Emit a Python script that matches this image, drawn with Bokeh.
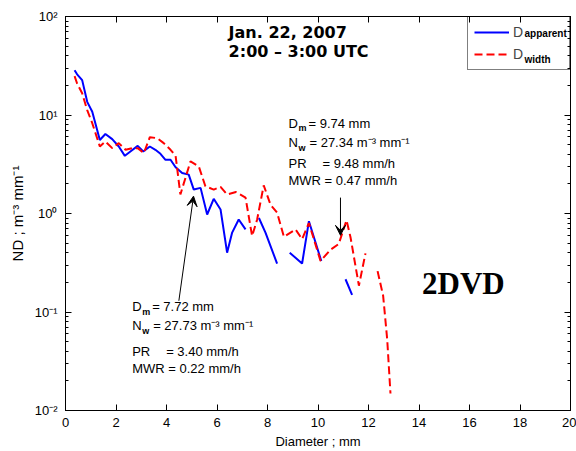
import math
from bokeh.plotting import figure
from bokeh.models import (Range1d, LinearAxis, LogAxis, LogTicker, SingleIntervalTicker,
                          CustomJSTickFormatter, Label, Arrow, VeeHead, Legend, LegendItem,
                          ColumnDataSource)
from bokeh.embed import file_html
from bokeh.resources import INLINE

nan = float("nan")

# ---- data ----
d_apparent_diam = [0.36, 0.46, 0.66, 0.86, 1.06, 1.36, 1.58, 1.85, 2.11, 2.35, 2.57, 2.86,
                   3.08, 3.34, 3.56, 3.76, 3.96, 4.16, 4.36, 4.62, 4.88, 5.08, 5.35, 5.61,
                   5.87, 6.14, 6.40, 6.60, 6.86, 7.13, 7.40, 7.66, 7.92, 8.38, 8.63, 8.88,
                   9.37, 9.64, 10.13, 10.60, 11.09, 11.35]
d_apparent_nd = [28.5, 25.9, 22.6, 13.6, 10.8, 5.58, 6.42, 5.69, 4.79, 3.85, 4.26, 4.86,
                 4.26, 4.79, 4.43, 4.04, 3.51, 3.51, 2.95, 2.58, 2.48, 1.75, 1.82, 0.977,
                 1.41, 1.10, 0.40, 0.64, 0.87, 0.69, nan, 0.90, 0.64, 0.31, nan, 0.40,
                 0.31, 0.835, 0.33, nan, 0.215, 0.149]

d_width_diam = [0.36, 0.46, 0.66, 0.86, 1.06, 1.36, 1.58, 1.85, 2.11, 2.38, 2.64, 2.86,
                3.10, 3.34, 3.63, 3.89, 4.16, 4.36, 4.55, 4.95, 5.28, 5.54, 5.87, 6.14,
                6.40, 6.75, 7.13, 7.39, 7.59, 7.85, 8.12, 8.38, 8.65, 9.11, 9.37, 9.64,
                10.10, 10.50, 10.82, 11.13, 11.29, 11.62, 11.88, 12.10, 12.36, 12.58,
                12.74, 12.87]
d_width_nd = [24.8, 20.9, 16.6, 11.2, 8.25, 4.79, 5.37, 4.61, 5.18, 4.43, 4.61, 4.61,
              4.10, 5.95, 5.82, 5.18, 4.43, 3.85, 1.56, 3.38, 3.00, 1.89, 1.75, 1.86,
              1.56, 1.65, 1.45, 0.59, 0.87, 1.93, 1.23, 1.02, 0.58, 0.69, 0.55, 0.80,
              0.33, 0.43, 0.49, 0.855, 0.57, 0.185, 0.394, nan, 0.26, 0.146,
              0.053, 0.0149]

x_tick_step = 2
y_tick_exponents = [-2, -1, 0, 1, 2]

FONT = "Liberation Sans"

p = figure(width=576, height=451,
           x_range=Range1d(0, 20), y_range=Range1d(0.01, 100),
           y_axis_type="log", output_backend="svg", toolbar_location=None,
           min_border_left=65, min_border_right=6, min_border_top=16, min_border_bottom=39)
p.xgrid.visible = False
p.ygrid.visible = False
p.outline_line_color = "black"
p.background_fill_color = "white"
p.border_fill_color = "white"

sup_code = """
const e = Math.round(Math.log10(tick));
const m = {'-':'\u207b','0':'\u2070','1':'\u00b9','2':'\u00b2','3':'\u00b3','4':'\u2074',
           '5':'\u2075','6':'\u2076','7':'\u2077','8':'\u2078','9':'\u2079'};
return '10' + String(e).split('').map(c => m[c]).join('');
"""


def style_axis(ax, labels=True):
    ax.axis_line_color = "black"
    ax.major_tick_in = 6
    ax.major_tick_out = 0
    ax.minor_tick_in = 3
    ax.minor_tick_out = 0
    ax.major_tick_line_color = "black"
    ax.minor_tick_line_color = "black"
    ax.major_label_text_font = FONT
    ax.major_label_text_font_size = "13px"
    ax.major_label_text_color = "black"
    ax.axis_label_text_font = FONT
    ax.axis_label_text_font_size = "13px"
    ax.axis_label_text_font_style = "normal"
    ax.axis_label_text_color = "black"
    if not labels:
        ax.major_label_text_font_size = "0px"
        ax.major_label_standoff = 0
        ax.axis_label_standoff = 0
        ax.formatter = CustomJSTickFormatter(code="return '';")


xax = p.xaxis[0]
xax.ticker = SingleIntervalTicker(interval=x_tick_step, num_minor_ticks=0)
style_axis(xax)
xax.minor_tick_line_color = None
xax.major_label_standoff = 7
xax.axis_label = "Diameter ; mm"
xax.axis_label_standoff = 4

yax = p.yaxis[0]
style_axis(yax)
yax.ticker = LogTicker(num_minor_ticks=10)
yax.formatter = CustomJSTickFormatter(code=sup_code)
yax.major_label_standoff = 8
yax.axis_label = "ND ; m\u207b\u00b3 mm\u207b\u00b9"
yax.axis_label_text_font_size = "15px"
yax.axis_label_standoff = 6

top_ax = LinearAxis(ticker=SingleIntervalTicker(interval=x_tick_step, num_minor_ticks=0))
style_axis(top_ax, labels=False)
top_ax.minor_tick_line_color = None
p.add_layout(top_ax, "above")

right_ax = LogAxis(ticker=LogTicker(num_minor_ticks=10))
style_axis(right_ax, labels=False)
p.add_layout(right_ax, "right")

src_a = ColumnDataSource(dict(x=d_apparent_diam, y=d_apparent_nd))
src_w = ColumnDataSource(dict(x=d_width_diam, y=d_width_nd))
r_a = p.line("x", "y", source=src_a, line_color="#0000ff", line_width=2)
r_w = p.line("x", "y", source=src_w, line_color="#ff0000", line_width=2, line_dash="8 4")

legend = Legend(items=[LegendItem(label="D", renderers=[r_a]),
                       LegendItem(label="D", renderers=[r_w])],
                location="top_right", margin=0, padding=6, spacing=4,
                glyph_width=35, glyph_height=18, label_height=18, label_width=50,
                label_standoff=4, border_line_color="black", border_line_width=1,
                background_fill_color="white", background_fill_alpha=0.0,
                label_text_font=FONT, label_text_font_size="14px")
p.add_layout(legend)

for txt, yy in [("apparent", 67.3), ("width", 36.5)]:
    p.add_layout(Label(x=18.18, y=yy, text=txt, text_font=FONT, text_font_size="10px",
                       text_font_style="bold", text_baseline="middle", text_color="black",
                       level="overlay"))

# title
for txt, yy in [("Jan. 22, 2007", 68.9), ("2:00 \u2013 3:00 UTC", 44.3)]:
    p.add_layout(Label(x=6.46, y=yy, text=txt, text_font="DejaVu Sans", text_font_size="16px",
                       text_font_style="bold", text_baseline="middle", text_color="black"))

# 2DVD
p.add_layout(Label(x=14.12, y=0.196, text="2DVD", text_font="Liberation Serif",
                   text_font_size="31px", text_font_style="bold", text_baseline="middle",
                   text_color="black"))


def block(x0, ys, dm, nw, pr, mwr):
    def lab(x, y, text, off=0, size="13px", baseline="middle", style="normal"):
        p.add_layout(Label(x=x, y=y, text=text, x_offset=off, text_font=FONT,
                           text_font_size=size, text_baseline=baseline,
                           text_font_style=style, text_color="black"))
    lab(x0, ys[0], "D")
    lab(x0, ys[0], "m", off=10, size="9px", baseline="top", style="bold")
    lab(x0, ys[0], "= %s mm" % dm, off=20)
    lab(x0, ys[1], "N")
    lab(x0, ys[1], "w", off=10, size="9px", baseline="top", style="bold")
    lab(x0, ys[1], "= %s m\u207b\u00b3 mm\u207b\u00b9" % nw, off=21)
    lab(x0, ys[2], "PR")
    lab(x0, ys[2], "= %s mm/h" % pr, off=34)
    lab(x0, ys[3], "MWR = %s mm/h" % mwr)


block(8.83, [8.24, 5.25, 3.25, 2.15], "9.74", "27.34", "9.48", "0.47")
block(2.64, [0.1124, 0.0727, 0.0401, 0.0266], "7.72", "27.73", "3.40", "0.22")

p.add_layout(Arrow(end=VeeHead(size=10, fill_color="black", line_color="black"),
                   x_start=4.49, y_start=0.13, x_end=5.07, y_end=1.5,
                   line_color="black", line_width=1))
p.add_layout(Arrow(end=VeeHead(size=10, fill_color="black", line_color="black"),
                   x_start=10.89, y_start=1.45, x_end=10.89, y_end=0.60,
                   line_color="black", line_width=1))

open("out.html", "w").write(file_html(p, INLINE))
